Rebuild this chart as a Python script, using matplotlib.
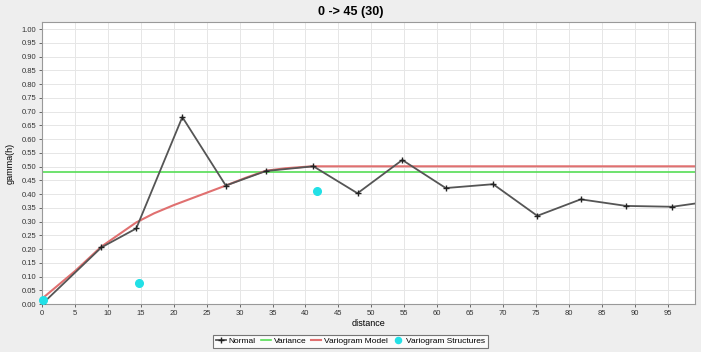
import matplotlib
matplotlib.use("Agg")
import matplotlib.pyplot as plt
import numpy as np

plt.rcParams['font.family'] = ['Liberation Sans', 'DejaVu Sans']

# Experimental variogram (Normal)
normal_x = [0, 9.0, 14.3, 21.3, 27.9, 34.0, 41.2, 47.9, 54.7, 61.3, 68.5, 75.2, 81.8, 88.7, 95.7, 102.5]
normal_y = [0.0, 0.206, 0.275, 0.680, 0.431, 0.484, 0.501, 0.403, 0.524, 0.422, 0.436, 0.321, 0.381, 0.357, 0.354, 0.377]

# Variance (sill of data)
variance = 0.479

# Variogram model curve
model_x = [0, 5, 9, 14.3, 17, 20, 25, 28, 31, 34, 37, 41, 99.5]
model_y = [0.02, 0.12, 0.209, 0.297, 0.33, 0.36, 0.405, 0.432, 0.46, 0.485, 0.494, 0.501, 0.501]

# Variogram structures
struct_x = [0.15, 14.65, 41.7]
struct_y = [0.015, 0.075, 0.411]

title = "0 -> 45 (30)"
xlabel = "distance"
ylabel = "gamma(h)"

fig = plt.figure(figsize=(7.01, 3.52), dpi=100)
fig.patch.set_facecolor('#eeeeee')
ax = fig.add_axes([0.060, 0.136, 0.931, 0.801])
ax.set_facecolor('white')

ax.set_xlim(0, 99.1)
ax.set_ylim(0, 1.025)
ax.set_xticks(np.arange(0, 96, 5))
ax.set_yticks(np.arange(0, 1.001, 0.05))
ax.set_yticklabels([f"{v:.2f}" for v in np.arange(0, 1.001, 0.05)])
ax.tick_params(labelsize=5.5, length=2, width=0.5, colors='#333333', pad=2)
ax.grid(True, color='#e6e6e6', linewidth=0.7)
ax.set_axisbelow(True)
for s in ax.spines.values():
    s.set_color('#999999')
    s.set_linewidth(0.8)

ax.axhline(variance, color='#55dd55', lw=1.2, label='Variance', zorder=2)
ax.plot(model_x, model_y, color='#e07070', lw=1.5, label='Variogram Model', zorder=3)
ax.plot(normal_x, normal_y, color='#555555', lw=1.3, marker='+', markersize=5,
        markeredgecolor='#222222', markeredgewidth=1.0, label='Normal', zorder=4)
ax.plot(struct_x, struct_y, linestyle='none', marker='o', markersize=5.5,
        color='#22e0e6', label='Variogram Structures', zorder=5, clip_on=False)

fig.text(0.5, 0.965, title, ha='center', va='center', fontsize=9, fontweight='bold')
ax.set_xlabel(xlabel, fontsize=6.5, labelpad=2)
ax.set_ylabel(ylabel, fontsize=6.5, labelpad=5)

handles, labels = ax.get_legend_handles_labels()
order = [labels.index(l) for l in ['Normal', 'Variance', 'Variogram Model', 'Variogram Structures']]
leg = fig.legend([handles[i] for i in order], [labels[i] for i in order],
                 loc='center', bbox_to_anchor=(0.5, 0.03), ncol=4, fontsize=6,
                 frameon=True, fancybox=False, edgecolor='#555555',
                 handlelength=1.2, handletextpad=0.35, columnspacing=0.6,
                 borderpad=0.35, markerscale=0.8)
leg.get_frame().set_linewidth(0.8)

fig.savefig('out.png', dpi=100, facecolor=fig.get_facecolor())
